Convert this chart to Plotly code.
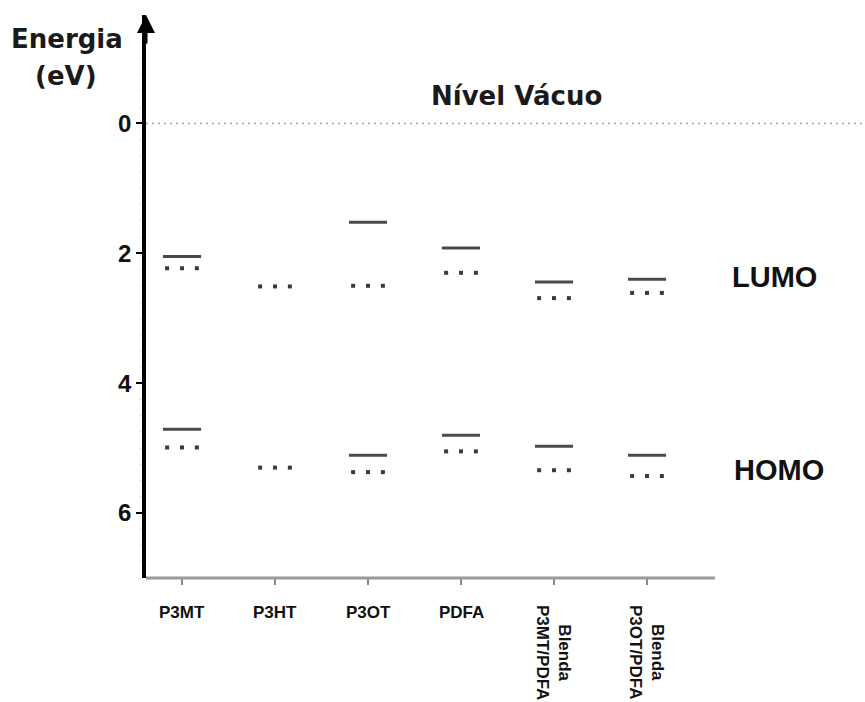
import plotly.graph_objects as go

# Materials (x categories)
materials = ["P3MT", "P3HT", "P3OT", "PDFA", "Blenda<br>P3MT/PDFA", "Blenda<br>P3OT/PDFA"]

# Energy levels (eV below vacuum); solid = measured level, dotted = second level
lumo_solid = [2.05, None, 1.52, 1.92, 2.44, 2.40]
lumo_dotted = [2.23, 2.51, 2.50, 2.30, 2.69, 2.61]
homo_solid = [4.71, None, 5.11, 4.80, 4.97, 5.11]
homo_dotted = [4.99, 5.30, 5.37, 5.05, 5.34, 5.43]

y_ticks = [0, 2, 4, 6]

HALF = 0.205      # half width of a level bar (x units)
DOT_STEP = 0.16   # spacing of the three dots (x units)

# figure geometry in pixels
W, H = 865, 702
L, R, T, B = 146, 0, 15, 124

fig = go.Figure()


def bar_trace(values):
    xs, ys = [], []
    for i, v in enumerate(values):
        if v is None:
            continue
        xs += [i - HALF, i + HALF, None]
        ys += [v, v, None]
    return go.Scatter(x=xs, y=ys, mode="lines",
                      line=dict(color="#4a4a4a", width=3),
                      hoverinfo="skip", showlegend=False)


def dot_trace(values):
    xs, ys = [], []
    for i, v in enumerate(values):
        if v is None:
            continue
        for k in (-1, 0, 1):
            xs.append(i + k * DOT_STEP)
            ys.append(v)
    return go.Scatter(x=xs, y=ys, mode="markers",
                      marker=dict(color="#3a3a3a", size=4, symbol="square"),
                      hoverinfo="skip", showlegend=False)


for series in (lumo_solid, homo_solid):
    fig.add_trace(bar_trace(series))
for series in (lumo_dotted, homo_dotted):
    fig.add_trace(dot_trace(series))

x_left = -0.387
x_axis_end = 5.73

# vacuum level reference line
fig.add_shape(type="line", xref="paper", yref="y", x0=0, x1=1, y0=0, y1=0,
              line=dict(color="#a8a8a8", width=1.5, dash="2px,4px"), layer="below")
# horizontal baseline
fig.add_shape(type="line", xref="x", yref="paper", x0=x_left, x1=x_axis_end, y0=0, y1=0,
              line=dict(color="#9a9a9a", width=3))

# arrowhead on the energy axis
fig.add_annotation(x=0, y=1, xref="paper", yref="paper", ax=0, ay=30,
                   text="", showarrow=True, arrowhead=2, arrowsize=1.2,
                   arrowwidth=3, arrowcolor="black")

# category labels
label_font = dict(family="Liberation Sans", size=17, color="#111")
for i, name in enumerate(materials):
    if "<br>" in name:
        fig.add_annotation(x=i, y=0, xref="x", yref="paper", text="<b>" + name + "</b>",
                           showarrow=False, textangle=90, xanchor="center", yanchor="middle",
                           yshift=-74, font=label_font)
    else:
        fig.add_annotation(x=i, y=0, xref="x", yref="paper", text="<b>" + name + "</b>",
                           showarrow=False, xanchor="center", yanchor="middle",
                           yshift=-34, font=label_font)


def px_to_paper(px, py):
    return (px - L) / (W - L - R), (H - B - py) / (H - B - T)


title_font = dict(family="DejaVu Sans", size=26, color="#1a1a1a")
level_font = dict(family="Liberation Sans", size=29, color="#111")
for text, (px, py), font in [
    ("<b>Energia</b>", (67, 39), title_font),
    ("<b>(eV)</b>", (66, 76), title_font),
    ("<b>Nível Vácuo</b>", (516, 96), title_font),
    ("<b>LUMO</b>", (774, 277), level_font),
    ("<b>HOMO</b>", (779, 470), level_font),
]:
    xp, yp = px_to_paper(px, py)
    fig.add_annotation(x=xp, y=yp, xref="paper", yref="paper", text=text,
                       showarrow=False, xanchor="center", yanchor="middle", font=font)

fig.update_layout(
    width=W, height=H,
    margin=dict(l=L, r=R, t=T, b=B),
    paper_bgcolor="white", plot_bgcolor="white",
    xaxis=dict(range=[x_left, 7.344], showgrid=False, zeroline=False, showline=False,
               tickvals=list(range(len(materials))), ticktext=[""] * len(materials),
               ticks="outside", ticklen=6, tickwidth=2, tickcolor="#888"),
    yaxis=dict(range=[7.0, -1.67], showgrid=False, zeroline=False,
               showline=True, linecolor="black", linewidth=3.5,
               tickvals=y_ticks, ticktext=[str(t) for t in y_ticks],
               ticks="outside", ticklen=6, tickwidth=2, tickcolor="black",
               tickfont=dict(family="Liberation Sans", size=24, color="#111", weight="bold"),
               minor=dict(dtick=0.25, ticks="outside", ticklen=2, tickcolor="#dcdcdc", tickwidth=1)),
)

fig.write_html("out.html")
